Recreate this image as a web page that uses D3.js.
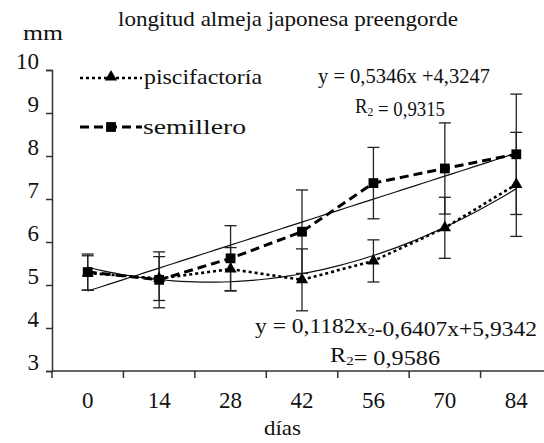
<!DOCTYPE html>
<html>
<head>
<meta charset="utf-8">
<script src="https://cdn.jsdelivr.net/npm/d3@7"></script>
<style>
    body { margin: 0; background: #fff; }
    svg text { font-family: "Liberation Serif", "Times New Roman", serif; fill: #111; }
</style>
</head>
<body>
<div id="chart"></div>
<script>
// datos
const dias = ['0', '14', '28', '42', '56', '70', '84'];
const semillero = [5.30, 5.12, 5.62, 6.24, 7.37, 7.71, 8.04];
const semilleroErr = [0.42, 0.65, 0.76, 0.97, 0.83, 1.06, 1.40];
const piscifactoria = [5.28, 5.15, 5.37, 5.12, 5.56, 6.33, 7.34];
const piscifactoriaErr = [0.40, 0.51, 0.50, 0.72, 0.49, 0.71, 1.21];
const yTicks = [3, 4, 5, 6, 7, 8, 9, 10];

// coeficientes de las líneas de tendencia (x = 1..7)
const tendLineal = [4.3247, 0.5346];            // semillero
const tendPoli = [5.9342, -0.6407, 0.1182];     // piscifactoría

const width = 544, height = 443;
const serif = '"Liberation Serif", "Times New Roman", serif';

const svg = d3.select('#chart').append('svg')
    .attr('width', width)
    .attr('height', height);

const x = d3.scaleBand().domain(dias).range([52, 552]);
const y = d3.scaleLinear().domain([3, 10]).range([371, 70]);
const cx = d => x(d) + x.bandwidth() / 2;

// texto ajustado al ancho que ocupa en el original
function label(txt, px, py, size, anchor, len) {
    const t = svg.append('text')
        .attr('x', px)
        .attr('y', py)
        .attr('text-anchor', anchor)
        .attr('font-size', size)
        .text(txt);
    if (len) t.attr('textLength', len).attr('lengthAdjust', 'spacingAndGlyphs');
    return t;
}

// ejes
const yAxis = svg.append('g')
    .attr('transform', 'translate(52,0)')
    .call(d3.axisLeft(y).tickValues(yTicks).tickFormat(d3.format('d')).tickSize(6).tickPadding(7));
yAxis.attr('font-family', serif);
yAxis.selectAll('text').attr('font-size', 23).attr('dy', '-0.05em');

const xAxis = svg.append('g')
    .attr('transform', 'translate(0,371)')
    .call(d3.axisBottom(x).tickSize(0).tickPadding(21));
xAxis.attr('font-family', serif);
xAxis.selectAll('text').attr('font-size', 23);
xAxis.select('.domain').attr('d', 'M52,0H552');

// marcas entre categorías
xAxis.selectAll('.sep')
    .data(dias.concat(['fin']))
    .enter().append('line')
    .attr('class', 'sep')
    .attr('x1', (d, i) => i < dias.length ? x(d) : x(dias[dias.length - 1]) + x.bandwidth())
    .attr('x2', (d, i) => i < dias.length ? x(d) : x(dias[dias.length - 1]) + x.bandwidth())
    .attr('y1', 0).attr('y2', 7);

svg.selectAll('.domain, .tick line, .sep')
    .attr('stroke', '#333')
    .attr('stroke-width', 1.5);

// líneas de tendencia
const xNum = d3.scaleLinear().domain([1, dias.length]).range([cx(dias[0]), cx(dias[dias.length - 1])]);
const pasos = d3.range(1, dias.length + 0.001, 0.1);
const evalPoly = (c, t) => c.reduce((s, k, i) => s + k * Math.pow(t, i), 0);

[tendLineal, tendPoli].forEach(coef => {
    const pts = pasos.map(t => [xNum(t), y(evalPoly(coef, t))]);
    svg.append('path')
        .attr('d', d3.line()(pts))
        .attr('fill', 'none')
        .attr('stroke', '#111')
        .attr('stroke-width', 1.2);
});

// barras de error
function errorBars(vals, errs) {
    const g = svg.append('g');
    vals.forEach((v, i) => {
        const px = cx(dias[i]);
        const top = y(v + errs[i]), bot = y(v - errs[i]);
        g.append('line').attr('x1', px).attr('x2', px).attr('y1', top).attr('y2', bot);
        g.append('line').attr('x1', px - 6).attr('x2', px + 6).attr('y1', top).attr('y2', top);
        g.append('line').attr('x1', px - 6).attr('x2', px + 6).attr('y1', bot).attr('y2', bot);
    });
    g.selectAll('line').attr('stroke', '#222').attr('stroke-width', 1.3);
}
errorBars(semillero, semilleroErr);
errorBars(piscifactoria, piscifactoriaErr);

// series
const serieLine = d3.line().x((d, i) => cx(dias[i])).y(d => y(d));

svg.append('path')
    .attr('d', serieLine(piscifactoria))
    .attr('fill', 'none')
    .attr('stroke', '#000')
    .attr('stroke-width', 2.6)
    .attr('stroke-dasharray', '3,3');

svg.append('path')
    .attr('d', serieLine(semillero))
    .attr('fill', 'none')
    .attr('stroke', '#000')
    .attr('stroke-width', 3)
    .attr('stroke-dasharray', '9,5');

const tri = d3.symbol().type(d3.symbolTriangle).size(64);
const sq = d3.symbol().type(d3.symbolSquare).size(96);

svg.selectAll('.tri')
    .data(piscifactoria)
    .enter().append('path')
    .attr('class', 'tri')
    .attr('d', tri)
    .attr('transform', (d, i) => `translate(${cx(dias[i])},${y(d)})`)
    .attr('fill', '#000');

svg.selectAll('.sq')
    .data(semillero)
    .enter().append('path')
    .attr('class', 'sq')
    .attr('d', sq)
    .attr('transform', (d, i) => `translate(${cx(dias[i])},${y(d)})`)
    .attr('fill', '#000');

// leyenda
const leg = svg.append('g');
leg.append('line').attr('x1', 80).attr('x2', 142).attr('y1', 78).attr('y2', 78)
    .attr('stroke', '#000').attr('stroke-width', 2.6).attr('stroke-dasharray', '3,3');
leg.append('path').attr('d', tri).attr('transform', 'translate(111,77)');
leg.append('line').attr('x1', 80).attr('x2', 142).attr('y1', 127).attr('y2', 127)
    .attr('stroke', '#000').attr('stroke-width', 3).attr('stroke-dasharray', '9,5');
leg.append('path').attr('d', sq).attr('transform', 'translate(111,127)');

label('piscifactoría', 144, 84, 22, 'start', 118);
label('semillero', 143, 134, 22, 'start', 103);

// títulos
label('longitud almeja japonesa preengorde', 118, 26, 21, 'start', 340);
label('mm', 23, 40, 22, 'start', 40);
label('días', 264, 435, 22, 'start', 37);

// ecuaciones
function ecuacion(partes, px, py, len) {
    const t = svg.append('text')
        .attr('x', px)
        .attr('y', py)
        .attr('text-anchor', 'start')
        .attr('font-size', 21);
    if (len) t.attr('textLength', len).attr('lengthAdjust', 'spacingAndGlyphs');
    partes.forEach(p => {
        if (p.sub) {
            t.append('tspan').attr('font-size', 13).attr('dy', 3).text(p.txt);
            t.append('tspan').attr('dy', -3).text('');
        } else {
            t.append('tspan').text(p.txt);
        }
    });
}
ecuacion([{ txt: 'y = 0,5346x +4,3247' }], 318, 83, 172);
ecuacion([{ txt: 'R' }, { txt: '2', sub: true }, { txt: ' = 0,9315' }], 355, 113, 90);
ecuacion([{ txt: 'y = 0,1182x' }, { txt: '2', sub: true }, { txt: '-0,6407x+5,9342' }], 255, 333, 282);
ecuacion([{ txt: 'R' }, { txt: '2', sub: true }, { txt: '= 0,9586' }], 330, 362, 110);
</script>
</body>
</html>
